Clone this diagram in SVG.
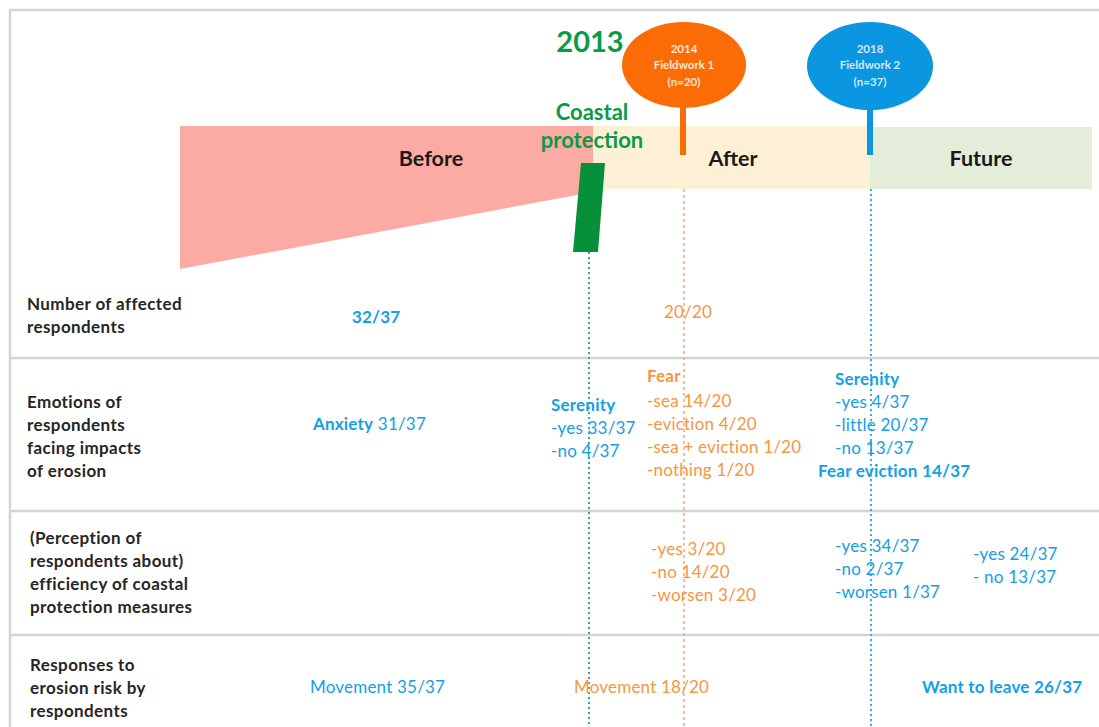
<svg xmlns="http://www.w3.org/2000/svg" width="1099" height="727" viewBox="0 0 1099 727">
<style>
text{font-family:Lato,"Open Sans","Liberation Sans",sans-serif;}
.lbl{font-size:17px;font-weight:bold;fill:#262626;letter-spacing:0.4px;}
.phase{font-size:21.5px;font-weight:bold;fill:#1a1a1a;text-anchor:middle;}
.b{fill:#12a0e6;font-size:17px;letter-spacing:0.2px;}
.o{fill:#f7953f;font-size:17px;letter-spacing:0.2px;}
.bold{font-weight:bold;}
.pin{font-size:11.5px;font-weight:bold;text-anchor:middle;}
.grid{stroke:#d4d4d4;stroke-width:2.5;fill:none;}
.green{fill:#0a9a48;font-weight:bold;text-anchor:middle;}
</style>
<rect width="1099" height="727" fill="#ffffff"/>
<g id="frame">
<line class="grid" x1="9" y1="10" x2="1099" y2="10"/>
<line class="grid" x1="10" y1="10" x2="10" y2="727"/>
<line class="grid" x1="10" y1="358" x2="1099" y2="358"/>
<line class="grid" x1="10" y1="511" x2="1099" y2="511"/>
<line class="grid" x1="10" y1="635" x2="1099" y2="635"/>
</g>
<g id="before">
<polygon points="180,126 593,126 593,192 180,269" fill="#fcaba4"/>
<text class="phase" x="431" y="166">Before</text>
</g>
<g id="after">
<rect x="593" y="126" width="277" height="63" fill="#fdf0d4"/>
<text class="phase" x="733" y="166">After</text>
</g>
<g id="future">
<rect x="870" y="127" width="222" height="62" fill="#e3edda"/>
<text class="phase" x="981" y="166">Future</text>
</g>
<g id="coastal-protection">
<text class="green" x="590" y="52" font-size="29">2013</text>
<text class="green" x="592" y="120" font-size="22">Coastal</text>
<text class="green" x="592" y="148" font-size="22">protection</text>
<polygon points="581,163 605,163 598,252 573,252" fill="#059039"/>
</g>
<g id="connectors">
<line x1="589" y1="252" x2="589" y2="727" stroke="#2fae8f" stroke-width="2" stroke-dasharray="2,3"/>
<line x1="684" y1="189" x2="684" y2="727" stroke="#f9a76a" stroke-width="1.5" stroke-dasharray="3,3"/>
<line x1="871" y1="189" x2="871" y2="727" stroke="#2cb0ea" stroke-width="2" stroke-dasharray="2,3"/>
</g>
<g id="fieldwork1">
<rect x="680" y="100" width="6" height="55" fill="#fb6c07"/>
<ellipse cx="684" cy="65" rx="62" ry="43" fill="#fb6c07"/>
<text class="pin" x="684" y="53" fill="#ffe8d8">2014</text>
<text class="pin" x="684" y="69" fill="#ffe8d8">Fieldwork 1</text>
<text class="pin" x="684" y="86" fill="#ffe8d8">(n=20)</text>
</g>
<g id="fieldwork2">
<rect x="867" y="100" width="6" height="55" fill="#0a96e0"/>
<ellipse cx="870" cy="66" rx="63" ry="44" fill="#0a96e0"/>
<text class="pin" x="870" y="53" fill="#cfeaff">2018</text>
<text class="pin" x="870" y="69" fill="#cfeaff">Fieldwork 2</text>
<text class="pin" x="870" y="86" fill="#cfeaff">(n=37)</text>
</g>
<g id="row-labels">
<text class="lbl" x="27" y="310">Number of affected</text>
<text class="lbl" x="27" y="333">respondents</text>
<text class="lbl" x="27" y="408">Emotions of</text>
<text class="lbl" x="27" y="431">respondents</text>
<text class="lbl" x="27" y="454">facing impacts</text>
<text class="lbl" x="27" y="477">of erosion</text>
<text class="lbl" x="30" y="544">(Perception of</text>
<text class="lbl" x="30" y="567">respondents about)</text>
<text class="lbl" x="30" y="590">efficiency of coastal</text>
<text class="lbl" x="30" y="613">protection measures</text>
<text class="lbl" x="30" y="671">Responses to</text>
<text class="lbl" x="30" y="694">erosion risk by</text>
<text class="lbl" x="30" y="717">respondents</text>
</g>
<g id="row1">
<text class="b bold" x="352" y="323">32/37</text>
<text class="o" x="664" y="318">20/20</text>
</g>
<g id="row2">
<text class="b" x="313" y="430"><tspan class="bold">Anxiety</tspan> 31/37</text>
<text class="b bold" x="551" y="411">Serenity</text>
<text class="b" x="551" y="434">-yes 33/37</text>
<text class="b" x="551" y="457">-no 4/37</text>
<text class="o bold" x="647" y="382">Fear</text>
<text class="o" x="647" y="407">-sea 14/20</text>
<text class="o" x="647" y="430">-eviction 4/20</text>
<text class="o" x="647" y="453">-sea + eviction 1/20</text>
<text class="o" x="647" y="476">-nothing 1/20</text>
<text class="b bold" x="835" y="385">Serenity</text>
<text class="b" x="835" y="408">-yes 4/37</text>
<text class="b" x="835" y="431">-little 20/37</text>
<text class="b" x="835" y="454">-no 13/37</text>
<text class="b bold" x="818" y="477">Fear eviction 14/37</text>
</g>
<g id="row3">
<text class="o" x="651" y="555">-yes 3/20</text>
<text class="o" x="651" y="578">-no 14/20</text>
<text class="o" x="651" y="601">-worsen 3/20</text>
<text class="b" x="835" y="552">-yes 34/37</text>
<text class="b" x="835" y="575">-no 2/37</text>
<text class="b" x="835" y="598">-worsen 1/37</text>
<text class="b" x="973" y="560">-yes 24/37</text>
<text class="b" x="973" y="583">- no 13/37</text>
</g>
<g id="row4">
<text class="b" x="310" y="693">Movement 35/37</text>
<text class="o" x="574" y="693">Movement 18/20</text>
<text class="b bold" x="922" y="693">Want to leave 26/37</text>
</g>
</svg>
